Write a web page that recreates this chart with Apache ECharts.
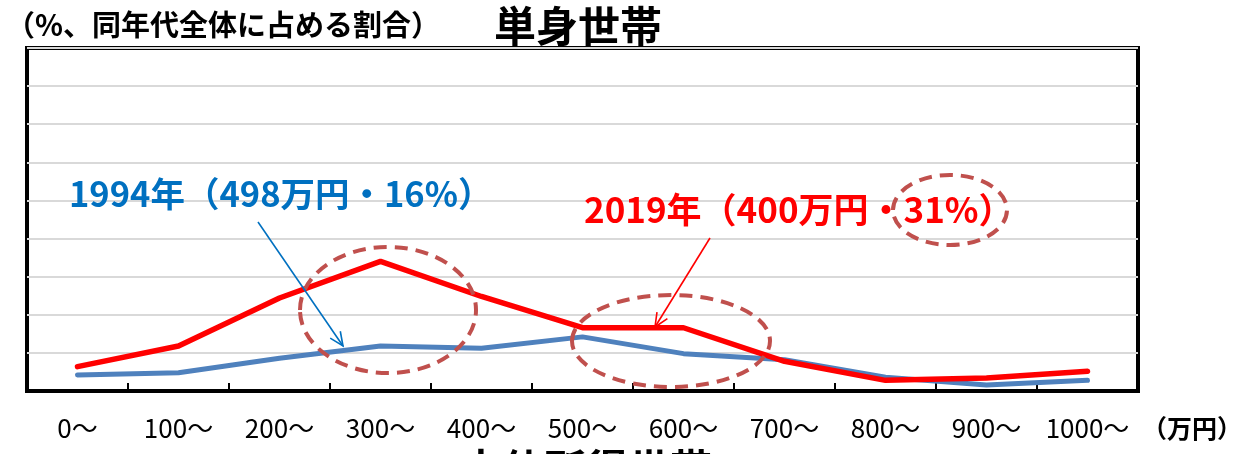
<!DOCTYPE html>
<html>
<head>
<meta charset="utf-8">
<script src="https://cdn.jsdelivr.net/npm/echarts@6/dist/echarts.min.js"></script>
<style>
  html, body { margin: 0; padding: 0; background: #fff; }
  #chart { width: 1255px; height: 454px; }
</style>
</head>
<body>
<div id="chart"></div>
<script>
// 年収階級（万円）
var categories = ['0～', '100～', '200～', '300～', '400～', '500～', '600～', '700～', '800～', '900～', '1000～'];
// 1994年 単身世帯（%）
var data1994 = [2.1, 2.4, 4.3, 5.9, 5.6, 7.1, 4.9, 4.1, 1.8, 0.8, 1.4];
// 2019年 単身世帯（%）
var data2019 = [3.2, 5.9, 12.2, 17.0, 12.4, 8.3, 8.3, 3.9, 1.4, 1.7, 2.6];

var FONT = '"Noto Sans CJK JP", sans-serif';
var ringColor = '#C0504D';

// 矢印（線＋V字の先端）
function arrow(x1, y1, x2, y2, color) {
	var a = Math.atan2(y2 - y1, x2 - x1), L = 15, s = 0.42;
	return [
		{ type: 'line', shape: { x1: x1, y1: y1, x2: x2, y2: y2 }, style: { stroke: color, lineWidth: 1.6 }, z: 20 },
		{ type: 'polyline', shape: { points: [
			[x2 - L * Math.cos(a - s), y2 - L * Math.sin(a - s)],
			[x2, y2],
			[x2 - L * Math.cos(a + s), y2 - L * Math.sin(a + s)]
		] }, style: { stroke: color, lineWidth: 1.6, fill: null }, z: 20 }
	];
}

function ring(cx, cy, rx, ry) {
	return { type: 'ellipse', shape: { cx: cx, cy: cy, rx: rx, ry: ry },
		style: { fill: null, stroke: ringColor, lineWidth: 4, lineDash: [13, 8] }, z: 15 };
}

var myChart = echarts.init(document.getElementById('chart'));
myChart.setOption({
	animation: false,
	title: {
		text: '単身世帯',
		left: 489, top: 0,
		textStyle: { fontFamily: FONT, fontSize: 42, fontWeight: 'bold', color: '#000' }
	},
	grid: {
		left: 27, top: 48, width: 1111, height: 343,
		show: true, borderColor: '#000', borderWidth: 4
	},
	xAxis: {
		type: 'category',
		data: categories,
		boundaryGap: true,
		axisLine: { show: true, lineStyle: { color: '#000', width: 4 } },
		axisTick: { show: true, interval: 0, inside: true, length: 8, lineStyle: { color: '#000', width: 2 } },
		axisLabel: { interval: 0, margin: 24, color: '#000', fontFamily: FONT, fontSize: 26 }
	},
	yAxis: {
		type: 'value',
		min: 0, max: 45, interval: 5,
		axisLine: { show: false },
		axisTick: { show: false },
		axisLabel: { show: false },
		splitLine: { lineStyle: { color: '#D9D9D9', width: 2 } }
	},
	series: [
		{
			name: '1994年', type: 'line', data: data1994, symbol: 'none', silent: true,
			lineStyle: { color: '#4F81BD', width: 5, cap: 'round', join: 'round' }, z: 3
		},
		{
			name: '2019年', type: 'line', data: data2019, symbol: 'none', silent: true,
			lineStyle: { color: '#FF0000', width: 5.5, cap: 'round', join: 'round' }, z: 4
		}
	],
	graphic: [
		{ type: 'text', left: 6, top: 10, z: 20,
		  style: { text: '（%、同年代全体に占める割合）', font: 'bold 29px ' + FONT, fill: '#000' } },
		{ type: 'text', left: 1142, top: 416, z: 20,
		  style: { text: '（万円）', font: 'bold 25px ' + FONT, fill: '#000' } },
		{ type: 'text', left: 460, top: 448, z: 20,
		  style: { text: '中位所得世帯', font: 'bold 42px ' + FONT, fill: '#000' } },
		{ type: 'text', left: 69, top: 177, z: 20,
		  style: { text: '1994年（498万円・16%）', font: 'bold 34.5px ' + FONT, fill: '#0070C0' } },
		{ type: 'text', left: 584, top: 192, z: 20,
		  style: { text: '2019年（400万円・31%）', font: 'bold 35px ' + FONT, fill: '#FF0000' } },
		ring(388, 310, 88, 63),
		ring(671, 341, 99, 46),
		ring(950, 210, 57, 35)
	].concat(arrow(258, 222, 343, 346, '#0070C0'), arrow(710, 238, 655, 327, '#FF0000'))
});
</script>
</body>
</html>
